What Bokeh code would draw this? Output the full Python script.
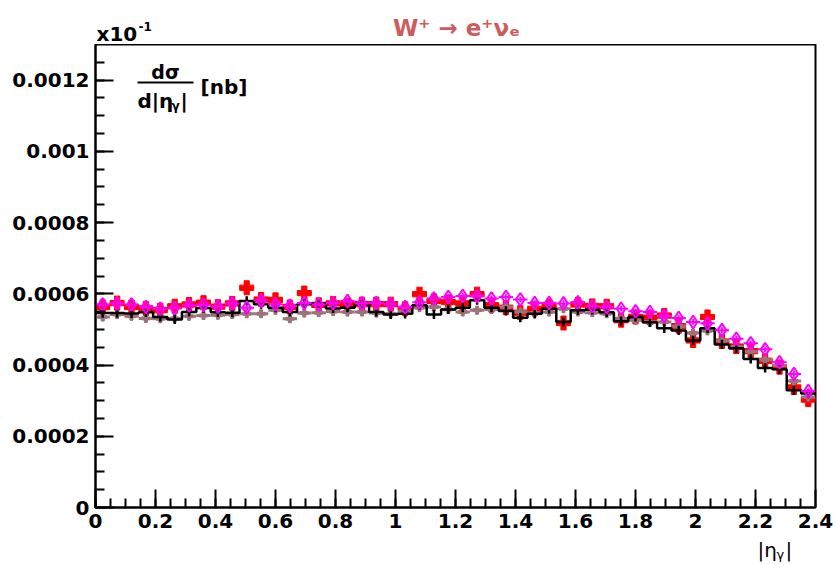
import numpy as np
from bokeh.plotting import figure
from bokeh.layouts import column
from bokeh.models import Range1d, FixedTicker, Label
from bokeh.embed import file_html
from bokeh.resources import INLINE

# ---- binning in |eta_gamma| : 50 bins over [0, 2.4]
eta_min, eta_max, n_bins = 0.0, 2.4, 50

# ---- dsigma/d|eta_gamma| [nb] (x 10^-1), one value per bin
black_hist = [
    0.000546, 0.000546, 0.000545, 0.000548, 0.000535, 0.000528, 0.000549, 0.000560, 0.000548, 0.000547,
    0.000580, 0.000571, 0.000561, 0.000549, 0.000571, 0.000573, 0.000559, 0.000561, 0.000571, 0.000549,
    0.000542, 0.000544, 0.000568, 0.000542, 0.000556, 0.000561, 0.000582, 0.000561, 0.000552, 0.000533,
    0.000544, 0.000558, 0.000521, 0.000554, 0.000555, 0.000548, 0.000523, 0.000535, 0.000520, 0.000503,
    0.000497, 0.000469, 0.000503, 0.000458, 0.000447, 0.000417, 0.000392, 0.000388, 0.000329, 0.000320,
]
red_points = [
    0.000563, 0.000574, 0.000563, 0.000559, 0.000554, 0.000565, 0.000570, 0.000575, 0.000564, 0.000573,
    0.000617, 0.000584, 0.000583, 0.000563, 0.000602, 0.000569, 0.000573, 0.000568, 0.000571, 0.000571,
    0.000571, 0.000558, 0.000599, 0.000580, 0.000577, 0.000573, 0.000599, 0.000568, 0.000561, 0.000547,
    0.000558, 0.000565, 0.000518, 0.000570, 0.000566, 0.000565, 0.000526, 0.000535, 0.000533, 0.000539,
    0.000509, 0.000469, 0.000535, 0.000466, 0.000452, 0.000439, 0.000412, 0.000394, 0.000337, 0.000303,
]
magenta_points = [
    0.000570, 0.000573, 0.000570, 0.000563, 0.000558, 0.000561, 0.000568, 0.000569, 0.000564, 0.000573,
    0.000561, 0.000581, 0.000571, 0.000566, 0.000574, 0.000570, 0.000574, 0.000580, 0.000573, 0.000574,
    0.000571, 0.000563, 0.000576, 0.000587, 0.000591, 0.000594, 0.000594, 0.000587, 0.000591, 0.000584,
    0.000574, 0.000574, 0.000573, 0.000576, 0.000565, 0.000563, 0.000558, 0.000551, 0.000549, 0.000538,
    0.000532, 0.000521, 0.000517, 0.000498, 0.000474, 0.000461, 0.000444, 0.000408, 0.000375, 0.000327,
]
brown_points = [
    0.000535, 0.000542, 0.000537, 0.000531, 0.000530, 0.000531, 0.000537, 0.000539, 0.000540, 0.000542,
    0.000544, 0.000544, 0.000554, 0.000530, 0.000546, 0.000547, 0.000550, 0.000549, 0.000549, 0.000546,
    0.000544, 0.000552, 0.000561, 0.000563, 0.000556, 0.000549, 0.000554, 0.000556, 0.000563, 0.000549,
    0.000546, 0.000549, 0.000558, 0.000549, 0.000547, 0.000544, 0.000531, 0.000526, 0.000520, 0.000521,
    0.000509, 0.000490, 0.000496, 0.000468, 0.000451, 0.000438, 0.000415, 0.000399, 0.000355, 0.000310,
]
# statistical uncertainty per bin (roughly uniform)
black_err = 0.000013
brown_err = 0.000012
red_err = 0.000012
magenta_err = 0.000008

# ---- axis ticks
x_ticks = [0, 0.2, 0.4, 0.6, 0.8, 1.0, 1.2, 1.4, 1.6, 1.8, 2.0, 2.2, 2.4]
x_tick_labels = ["0", "0.2", "0.4", "0.6", "0.8", "1", "1.2", "1.4", "1.6", "1.8", "2", "2.2", "2.4"]
y_ticks = [0, 0.0002, 0.0004, 0.0006, 0.0008, 0.001, 0.0012]
y_tick_labels = ["0", "0.0002", "0.0004", "0.0006", "0.0008", "0.001", "0.0012"]
y_max = 0.0013

# ---- colours / fonts
RED = "#ff0000"
MAGENTA = "#ff00ff"
BROWN = "#9a7478"
TITLE_COLOR = "#cd5c5c"
FONT = "DejaVu Sans"

# ---- page layout: header strip, main plot, footer strip
W = 835
HEAD_H = 44
LEFT, RIGHT, BOTTOM = 95, 20, 32
FRAME_H = 463
FOOT_H = 26
MAIN_H = FRAME_H + BOTTOM


def strip(height, top):
    """Axis-less strip whose data coordinates equal page pixels."""
    f = figure(width=W, height=height, output_backend="svg", toolbar_location=None,
               x_axis_type=None, y_axis_type=None,
               min_border_left=LEFT, min_border_right=RIGHT,
               min_border_top=0, min_border_bottom=0,
               x_range=Range1d(LEFT, W - RIGHT), y_range=Range1d(top + height, top))
    f.outline_line_color = None
    f.grid.visible = False
    f.background_fill_color = "white"
    f.border_fill_color = "white"
    return f


def put(fig, x, y, text, size, bold=True, align="left", color="black"):
    fig.add_layout(Label(x=x, y=y, text=text, text_font=FONT,
                         text_font_size=f"{size}px",
                         text_font_style="bold" if bold else "normal",
                         text_align=align, text_baseline="middle", text_color=color))


# ---- header: title and axis multiplier
head = strip(HEAD_H, 0)
put(head, 456, 27, "W\u207a \u2192 e\u207a\u03bd\u2091", 23, align="center", color=TITLE_COLOR)
put(head, 96, 33, "x10", 20)
put(head, 138, 26, "-1", 12)

# ---- main plot
p = figure(width=W, height=MAIN_H, output_backend="svg", toolbar_location=None,
           x_range=Range1d(eta_min, eta_max), y_range=Range1d(0, y_max),
           min_border_left=LEFT, min_border_right=RIGHT,
           min_border_top=0, min_border_bottom=BOTTOM)
p.background_fill_color = "white"
p.border_fill_color = "white"
p.outline_line_color = "black"
p.outline_line_width = 2
p.xgrid.visible = False
p.ygrid.visible = False

edges = np.linspace(eta_min, eta_max, n_bins + 1)
centers = 0.5 * (edges[:-1] + edges[1:])

blk = np.array(black_hist)
red = np.array(red_points)
mag = np.array(magenta_points)
brn = np.array(brown_points)

# red points: bin-width bars, error bars, full crosses
p.segment(edges[:-1], red, edges[1:], red, line_color=RED, line_width=2)
p.segment(centers, red - red_err, centers, red + red_err, line_color=RED, line_width=2)
p.scatter(centers, red, marker="plus", size=14, fill_color=RED, line_color=RED)

# brown points
p.segment(edges[:-1], brn, edges[1:], brn, line_color=BROWN, line_width=3)
p.segment(centers, brn - brown_err, centers, brn + brown_err, line_color=BROWN, line_width=2)
p.scatter(centers, brn, marker="plus", size=8, fill_color=BROWN, line_color=BROWN)

# black histogram with error bars
p.step(np.append(edges[:-1], edges[-1]), np.append(blk, blk[-1]), mode="after",
       line_color="black", line_width=2.5)
p.segment(centers, blk - black_err, centers, blk + black_err, line_color="black", line_width=2.5)

# magenta open diamonds
p.segment(edges[:-1], mag, edges[1:], mag, line_color=MAGENTA, line_width=2)
p.segment(centers, mag - magenta_err, centers, mag + magenta_err, line_color=MAGENTA, line_width=2)
p.scatter(centers, mag, marker="diamond", size=13, fill_color="white", fill_alpha=0.0,
          line_color=MAGENTA, line_width=2)

# ---- axes
for ax in (p.xaxis[0], p.yaxis[0]):
    ax.axis_line_width = 2
    ax.major_tick_line_width = 2
    ax.minor_tick_line_width = 2
    ax.major_tick_out = 0
    ax.minor_tick_out = 0
    ax.major_tick_in = 18
    ax.minor_tick_in = 9
    ax.major_label_text_font = FONT
    ax.major_label_text_font_style = "bold"
    ax.major_label_text_font_size = "20px"
    ax.major_label_text_color = "black"
    ax.major_label_standoff = 6

p.xaxis.ticker = FixedTicker(ticks=x_ticks,
                             minor_ticks=[i * 0.05 for i in range(49)])
p.xaxis.major_label_overrides = dict(zip(x_ticks, x_tick_labels))
p.yaxis.ticker = FixedTicker(ticks=y_ticks,
                             minor_ticks=[i * 0.00005 for i in range(27)])
p.yaxis.major_label_overrides = dict(zip(y_ticks, y_tick_labels))

# y-axis quantity drawn as a fraction inside the frame (positions in page pixels)
fw = W - LEFT - RIGHT
def X(px):
    return eta_min + (px - LEFT) / fw * (eta_max - eta_min)
def Y(py):
    return (HEAD_H + FRAME_H - py) / FRAME_H * y_max

def lab(x, y, text, size, align="left"):
    put(p, X(x), Y(y), text, size, align=align)

lab(165, 71, "d\u03c3", 19, align="center")
p.segment(X(137), Y(82), X(193), Y(82), line_color="black", line_width=2)
lab(137, 100, "d|\u03b7", 20)
lab(171, 105, "\u03b3", 12)
lab(180, 100, "|", 20)
lab(200, 86, "[nb]", 20)

# ---- footer: x-axis title at the right end
foot = strip(FOOT_H, HEAD_H + MAIN_H)
put(foot, 757, 549, "|\u03b7", 20, bold=False)
put(foot, 776, 554, "\u03b3", 13, bold=False)
put(foot, 785, 549, "|", 20, bold=False)

page = column(head, p, foot, spacing=0)
open("out.html", "w").write(file_html(page, INLINE))
